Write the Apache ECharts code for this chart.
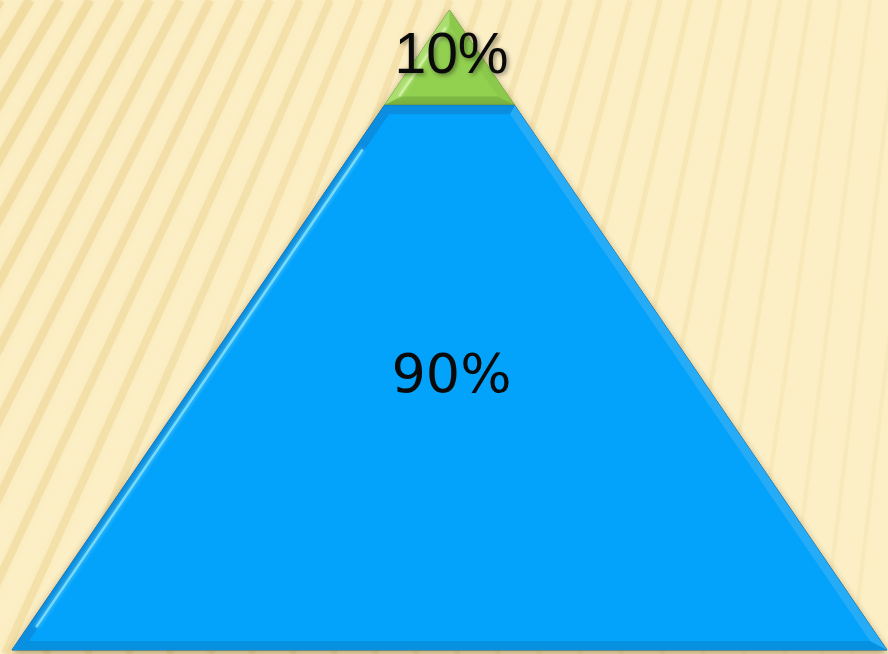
<!DOCTYPE html>
<html>
<head>
<meta charset="utf-8">
<style>
  html, body { margin: 0; padding: 0; background: #fcefc5; }
  #pyramid { width: 888px; height: 654px; }
</style>
<script src="https://cdn.jsdelivr.net/npm/echarts@6/dist/echarts.min.js"></script>
</head>
<body>
<div id="pyramid"></div>
<script>
// tiers from the top of the pyramid down
const tierValues = [10, 90];

// colours: fill, bevel shades (left, right, bottom, top), outline, highlight
const tierColors = ['#92d050', '#03a2fb'];
const tierBevel = [
    ['#a9dd6e', '#8cc84c', '#7cb843', '#8cc84c'],
    ['#0b8ee0', '#26acf7', '#0690e0', '#0b8ee0']
];
const tierLine = ['#6a9a3a', '#245f8c'];
const tierLight = ['#d2f2a4', '#7fe4ff'];
const tierFonts = ['57px "Liberation Sans"', '54px "DejaVu Sans"'];

// height share of the pyramid below the top tier (y axis runs 0..1)
const splitY = 0.851;
const tierBounds = [[splitY, 1], [0, splitY]];

let myChart = echarts.init(document.getElementById('pyramid'));

// move every edge of a convex polygon inwards by d pixels
function inset(pts, d) {
    let n = pts.length, cx = 0, cy = 0;
    pts.forEach(p => { cx += p[0] / n; cy += p[1] / n; });
    let lines = [];
    for (let i = 0; i < n; i++) {
        let a = pts[i], b = pts[(i + 1) % n];
        let dx = b[0] - a[0], dy = b[1] - a[1];
        let len = Math.hypot(dx, dy);
        let nx = -dy / len, ny = dx / len;
        if ((cx - a[0]) * nx + (cy - a[1]) * ny < 0) { nx = -nx; ny = -ny; }
        lines.push([a[0] + nx * d, a[1] + ny * d, dx, dy]);
    }
    let out = [];
    for (let i = 0; i < n; i++) {
        let l1 = lines[(i + n - 1) % n], l2 = lines[i];
        let det = l1[2] * l2[3] - l1[3] * l2[2];
        let t = ((l2[0] - l1[0]) * l2[3] - (l2[1] - l1[1]) * l2[2]) / det;
        out.push([l1[0] + t * l1[2], l1[1] + t * l1[3]]);
    }
    return out;
}

function renderTier(params, api) {
    let i = api.value(0);
    let v = api.value(1);
    let y0 = tierBounds[i][0], y1 = tierBounds[i][1];

    // half width of the pyramid at height y is (1 - y)
    let pts = [[-(1 - y0), y0], [1 - y0, y0]];
    if (y1 < 1) pts.push([1 - y1, y1], [-(1 - y1), y1]);
    else pts.push([0, 1]);
    let px = pts.map(p => api.coord(p));
    let inner = inset(px, 9);

    let children = [{
        type: 'polygon',
        shape: { points: px },
        style: {
            fill: tierColors[i], stroke: tierLine[i], lineWidth: 1,
            shadowBlur: 7, shadowOffsetY: 3, shadowColor: 'rgba(90,70,20,0.45)'
        }
    }];

    // bevel bands, one per edge
    let n = px.length;
    for (let k = 0; k < n; k++) {
        let a = px[k], b = px[(k + 1) % n];
        let shade;
        if (Math.abs(a[1] - b[1]) < 1) shade = (a[1] > api.coord([0, (y0 + y1) / 2])[1]) ? 2 : 3;
        else shade = ((a[0] + b[0]) / 2 < api.coord([0, 0])[0]) ? 0 : 1;
        children.push({
            type: 'polygon',
            shape: { points: [a, b, inner[(k + 1) % n], inner[k]] },
            style: { fill: tierBevel[i][shade] }
        });
    }
    children.push({
        type: 'polygon',
        shape: { points: inner },
        style: { fill: tierColors[i] }
    });

    // light streak along the inner left edge
    let hl = inset(px, 7);
    let bl = hl[0], tl = hl[hl.length - 1];
    children.push({
        type: 'line',
        shape: {
            x1: bl[0] + (tl[0] - bl[0]) * 0.03, y1: bl[1] + (tl[1] - bl[1]) * 0.03,
            x2: bl[0] + (tl[0] - bl[0]) * 0.93, y2: bl[1] + (tl[1] - bl[1]) * 0.93
        },
        style: { stroke: tierLight[i], lineWidth: 2.5, opacity: 0.85, shadowBlur: 4, shadowColor: tierLight[i] }
    });

    let mid = api.coord([0, (y0 + y1) / 2]);
    children.push({
        type: 'text',
        style: {
            text: v + '%',
            x: mid[0] + 2, y: mid[1],
            align: 'center', verticalAlign: 'middle',
            font: tierFonts[i],
            fill: '#0a0a0a',
            textShadowColor: i === 0 ? 'rgba(0,0,0,0.4)' : 'transparent',
            textShadowBlur: i === 0 ? 4 : 0,
            textShadowOffsetX: 2, textShadowOffsetY: 2
        }
    });

    return { type: 'group', children: children };
}

// soft diagonal stripes of the backdrop
let stripes = [];
for (let t = -270; t < 960; t += 30) {
    let k = Math.min(Math.max(t / 888, 0), 1);
    let slope = 0.62 - 0.5 * k;
    let a = 0.34 - 0.24 * k;
    stripes.push({
        type: 'line',
        silent: true,
        shape: { x1: t, y1: 0, x2: t - slope * 654, y2: 654 },
        style: {
            stroke: 'rgba(225,192,110,' + a.toFixed(2) + ')',
            lineWidth: 10 - 6 * k,
            shadowBlur: 9 - 5 * k,
            shadowColor: 'rgba(225,192,110,' + (a + 0.1).toFixed(2) + ')'
        }
    });
}

let option = {
    backgroundColor: '#fcefc5',
    animation: false,
    graphic: { elements: stripes },
    grid: { left: 12, right: 1, top: 10, bottom: 4 },
    xAxis: { type: 'value', min: -1, max: 1, show: false },
    yAxis: { type: 'value', min: 0, max: 1, show: false },
    series: [{
        type: 'custom',
        renderItem: renderTier,
        data: tierValues.map((v, i) => [i, v])
    }]
};

myChart.setOption(option);
</script>
</body>
</html>
